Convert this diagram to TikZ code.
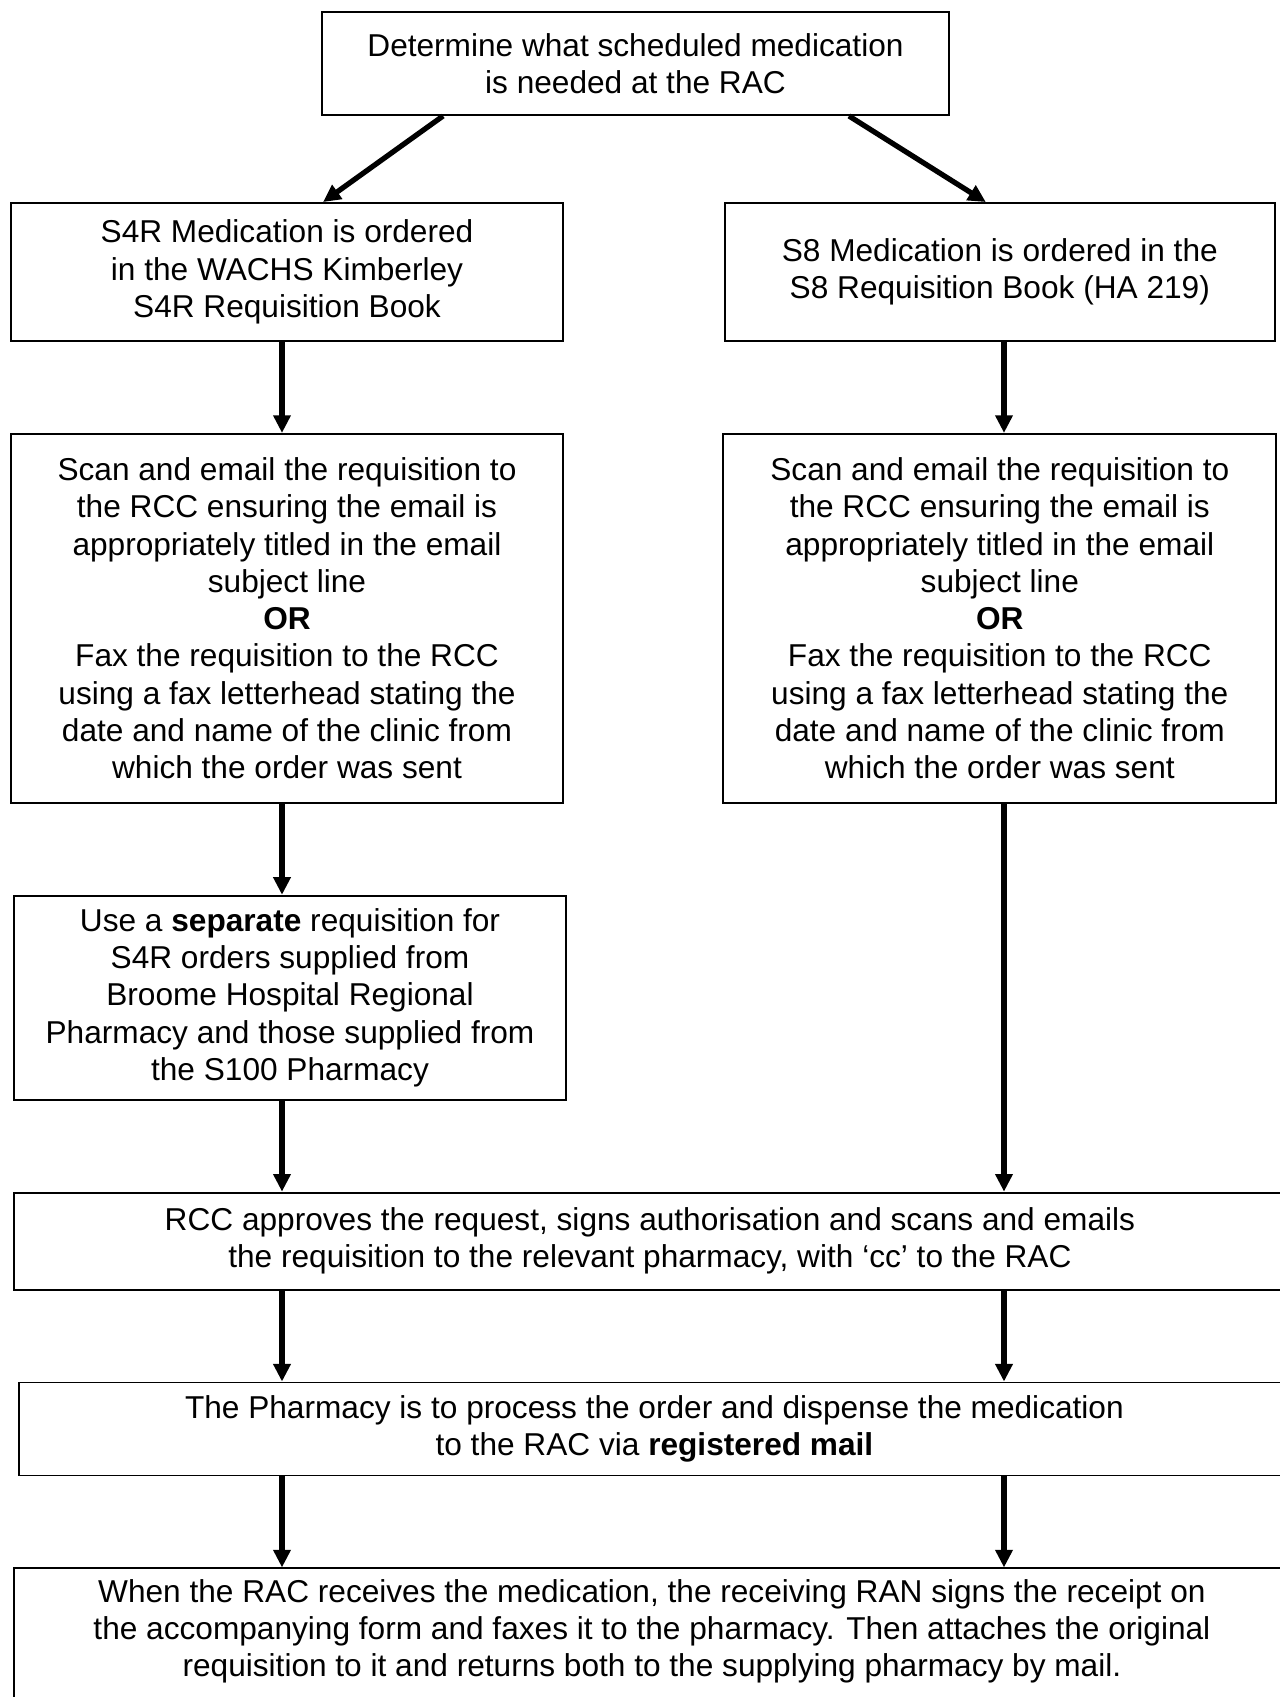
\documentclass[tikz,border=0pt]{standalone}
\usepackage{fontspec}
\setmainfont{Liberation Sans}
\usetikzlibrary{positioning,arrows.meta}

\begin{document}
\begin{tikzpicture}[
    x=0.02cm, y=-0.02cm,
    node distance=1.82cm,
    flowbox/.style={rectangle,draw,line width=1.1pt,align=center,inner sep=0pt},
    arr/.style={-{Triangle[length=10pt,width=9.5pt]},line width=3pt},
    font=\fontsize{18}{21.2}\selectfont
    ]

    \useasboundingbox (0,0) rectangle (1279,1697);

    \node (top) [flowbox,minimum width=12.54cm,minimum height=2.06cm] at (635.5,63.5)
        {Determine what scheduled medication\\is needed at the RAC};
    \node (s4r) [flowbox,minimum width=11.04cm,minimum height=2.76cm] at (287,272)
        {S4R Medication is ordered\\in the WACHS Kimberley\\S4R Requisition Book};
    \node (s8) [flowbox,minimum width=11cm,minimum height=2.76cm,right=3.2cm of s4r]
        {S8 Medication is ordered in the\\S8 Requisition Book (HA 219)};
    \node (scanL) [flowbox,minimum width=11.04cm,minimum height=7.38cm,below=of s4r]
        {Scan and email the requisition to\\the RCC ensuring the email is\\appropriately titled in the email\\subject line\\\textbf{OR}\\Fax the requisition to the RCC\\using a fax letterhead stating the\\date and name of the clinic from\\which the order was sent};
    \node (scanR) [flowbox,minimum width=11.06cm,minimum height=7.38cm,below=of s8]
        {Scan and email the requisition to\\the RCC ensuring the email is\\appropriately titled in the email\\subject line\\\textbf{OR}\\Fax the requisition to the RCC\\using a fax letterhead stating the\\date and name of the clinic from\\which the order was sent};
    \node (sepL) [flowbox,minimum width=11.04cm,minimum height=4.08cm,below=of scanL,xshift=0.06cm]
        {Use a \textbf{separate} requisition for\\S4R orders supplied from\\Broome Hospital Regional\\Pharmacy and those supplied from\\the S100 Pharmacy};
    \node (rcc) [flowbox,minimum width=25.44cm,minimum height=1.94cm,below right=1.82cm and 0cm of sepL.south west]
        {RCC approves the request, signs authorisation and scans and emails\\the requisition to the relevant pharmacy, with ‘cc’ to the RAC};
    \node (pharm) [flowbox,minimum width=25.42cm,minimum height=1.86cm,below right=1.82cm and 0.1cm of rcc.south west]
        {The Pharmacy is to process the order and dispense the medication\\to the RAC via \textbf{registered mail}};
    \node (final) [flowbox,minimum width=25.52cm,minimum height=2.8cm,text depth=0.42cm,below right=1.82cm and -0.1cm of pharm.south west]
        {When the RAC receives the medication, the receiving RAN signs the receipt on\\the accompanying form and faxes it to the pharmacy. Then attaches the original\\requisition to it and returns both to the supplying pharmacy by mail.};

    \coordinate (colL) at (282,0);
    \coordinate (colR) at (1004,0);

    \draw[arr] ([xshift=2.44cm]top.south west) -- ([xshift=6.26cm]s4r.north west);
    \draw[arr] ([xshift=-2.02cm]top.south east) -- ([xshift=5.24cm]s8.north west);
    \draw[arr] (s4r.south -| colL) -- (scanL.north -| colL);
    \draw[arr] (s8.south -| colR) -- (scanR.north -| colR);
    \draw[arr] (scanL.south -| colL) -- (sepL.north -| colL);
    \draw[arr] (sepL.south -| colL) -- (rcc.north -| colL);
    \draw[arr] (scanR.south -| colR) -- (rcc.north -| colR);
    \draw[arr] (rcc.south -| colL) -- (pharm.north -| colL);
    \draw[arr] (rcc.south -| colR) -- (pharm.north -| colR);
    \draw[arr] (pharm.south -| colL) -- (final.north -| colL);
    \draw[arr] (pharm.south -| colR) -- (final.north -| colR);

  \end{tikzpicture}
\end{document}
